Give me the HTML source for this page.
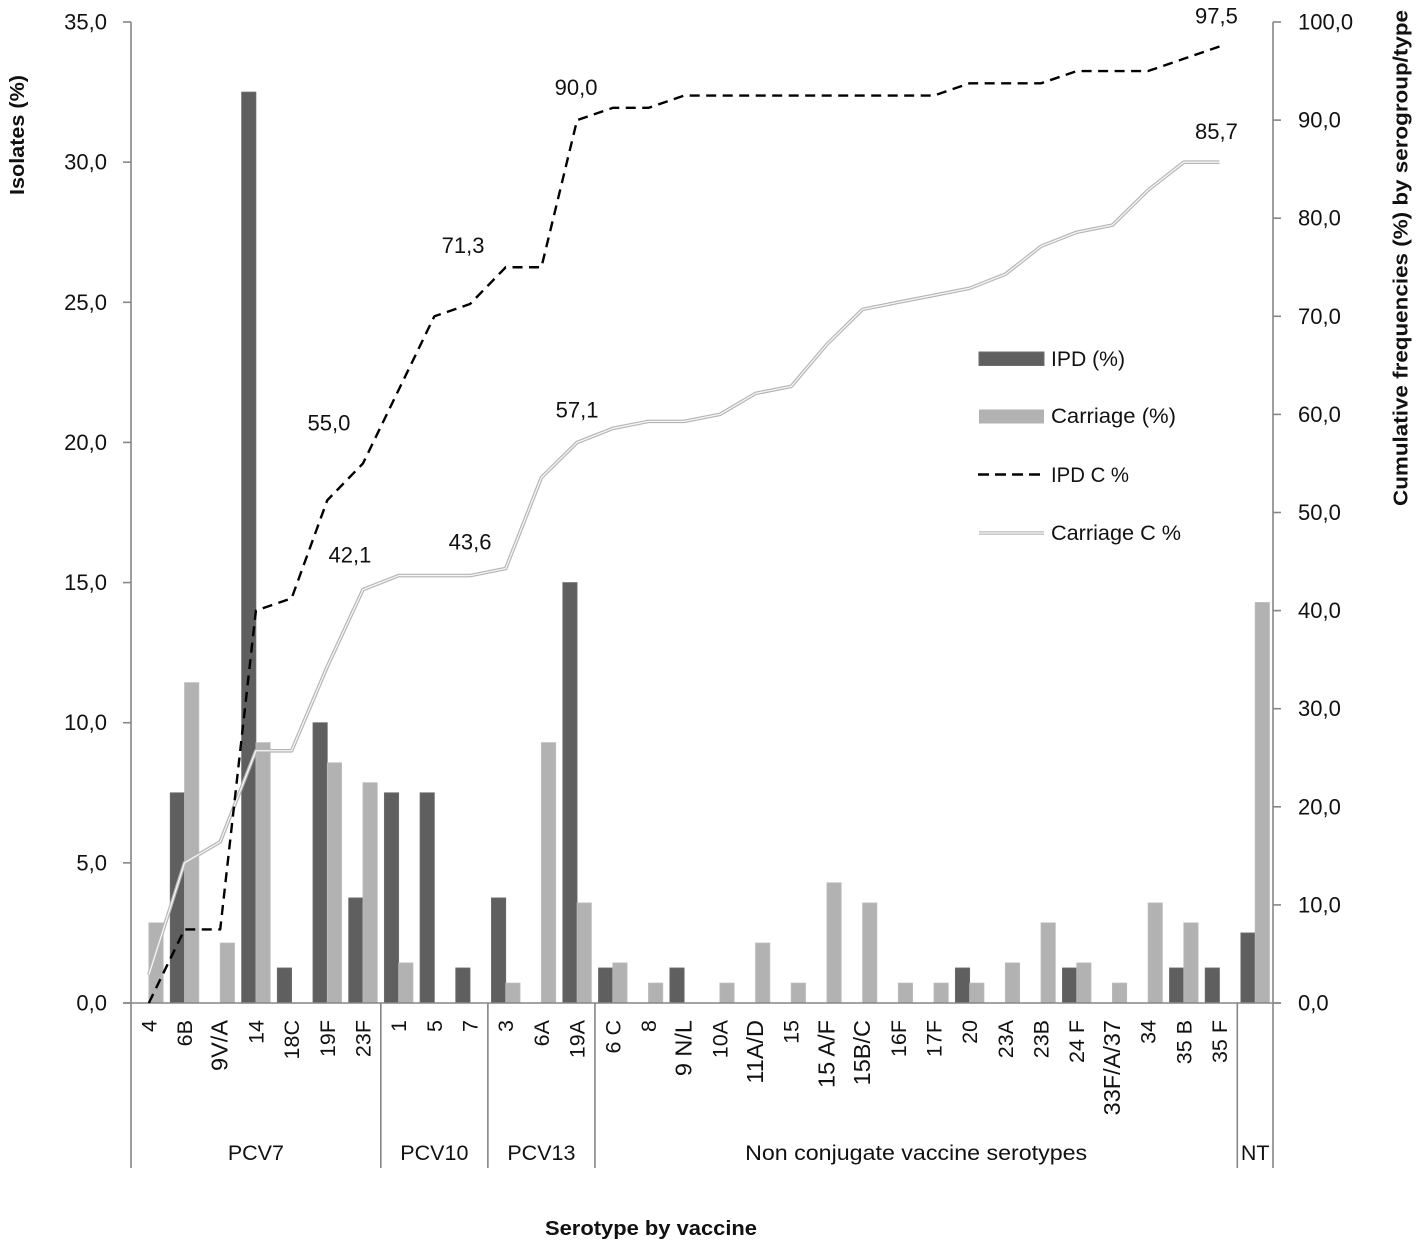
<!DOCTYPE html>
<html lang="en">
<head>
<meta charset="utf-8">
<title>Serotype distribution by vaccine</title>
<style>
html,body{margin:0;padding:0;background:#fff;}
svg{display:block;}
text{font-family:"Liberation Sans",sans-serif;fill:#111;}
</style>
</head>
<body>
<svg id="chart" width="1418" height="1246" viewBox="0 0 1418 1246" xmlns="http://www.w3.org/2000/svg">
  <text transform="translate(24,135) rotate(-90)" text-anchor="middle" font-size="20.5" font-weight="bold" textLength="120" lengthAdjust="spacingAndGlyphs">Isolates (%)</text>
  <text transform="translate(1407.5,258) rotate(-90)" text-anchor="middle" font-size="20.5" font-weight="bold" textLength="496" lengthAdjust="spacingAndGlyphs">Cumulative frequencies (%) by serogroup/type</text>
  <text x="651" y="1235" text-anchor="middle" font-size="20.5" font-weight="bold" textLength="212" lengthAdjust="spacingAndGlyphs">Serotype by vaccine</text>
  <g id="bars"></g>
  <g id="axes"></g>
  <g id="lines"></g>
  <g id="labels"></g>
  <g>
    <rect x="979" y="352" width="65" height="13.5" fill="#5f5f5f" stroke="#6e6e6e" stroke-width="1"/>
    <text x="1051" y="366" font-size="21.5" textLength="74" lengthAdjust="spacingAndGlyphs">IPD (%)</text>
    <rect x="979" y="409.5" width="65" height="14" fill="#b2b2b2"/>
    <text x="1051" y="423" font-size="21.5" textLength="125" lengthAdjust="spacingAndGlyphs">Carriage (%)</text>
    <line x1="978" y1="474.5" x2="1040" y2="474.5" stroke="#000" stroke-width="2.4" stroke-dasharray="11 6"/>
    <text x="1051" y="482" font-size="21.5" textLength="78" lengthAdjust="spacingAndGlyphs">IPD C %</text>
    <line x1="979" y1="533" x2="1044" y2="533" stroke="#b8b8b8" stroke-width="3.4"/>
    <line x1="979" y1="533" x2="1044" y2="533" stroke="#f4f4f4" stroke-width="1.2"/>
    <text x="1051" y="540" font-size="21.5" textLength="130" lengthAdjust="spacingAndGlyphs">Carriage C %</text>
  </g>
</svg>
<script>
const categories = ['4','6B','9V/A','14','18C','19F','23F','1','5','7','3','6A','19A','6 C','8','9 N/L','10A','11A/D','15','15 A/F','15B/C','16F','17F','20','23A','23B','24 F','33F/A/37','34','35 B','35 F',''];
const groupNames = ['PCV7','PCV10','PCV13','Non conjugate vaccine serotypes','NT'];
const groupSizes = [7,3,3,18,1];
const ipd = [0,7.5,0,32.5,1.25,10,3.75,7.5,7.5,1.25,3.75,0,15,1.25,0,1.25,0,0,0,0,0,0,0,1.25,0,0,1.25,0,0,1.25,1.25,2.5];
const carriage = [2.86,11.43,2.14,9.29,0,8.57,7.86,1.43,0,0,0.71,9.29,3.57,1.43,0.71,0,0.71,2.14,0.71,4.29,3.57,0.71,0.71,0.71,1.43,2.86,1.43,0.71,3.57,2.86,0,14.29];
const ipdCumulative = [0,7.5,7.5,40,41.25,51.25,55,62.5,70,71.25,75,75,90,91.25,91.25,92.5,92.5,92.5,92.5,92.5,92.5,92.5,92.5,93.75,93.75,93.75,95,95,95,96.25,97.5];
const carriageCumulative = [2.86,14.29,16.43,25.71,25.71,34.29,42.14,43.57,43.57,43.57,44.29,53.57,57.14,58.57,59.29,59.29,60,62.14,62.86,67.14,70.71,71.43,72.14,72.86,74.29,77.14,78.57,79.29,82.86,85.71,85.71];
const leftTicks = [0,5,10,15,20,25,30,35];
const rightTicks = [0,10,20,30,40,50,60,70,80,90,100];

const NS = 'http://www.w3.org/2000/svg';
const plot = {left:131, right:1273, top:22, bottom:1003, sepBottom:1168};
const AXIS = '#868686';
const step = (plot.right - plot.left) / categories.length;
const xCenter = i => plot.left + step * (i + 0.5);
const yLeft = v => plot.bottom - (v / 35) * (plot.bottom - plot.top);
const yRight = v => plot.bottom - (v / 100) * (plot.bottom - plot.top);
const comma = v => v.toFixed(1).replace('.', ',');

function make(parent, tag, attrs, content) {
  const el = document.createElementNS(NS, tag);
  for (const k in attrs) el.setAttribute(k, attrs[k]);
  if (content !== undefined) el.textContent = content;
  document.getElementById(parent).appendChild(el);
  return el;
}

const barW = 14.3;
categories.forEach((c, i) => {
  if (ipd[i] > 0) {
    const b = make('bars', 'rect', {x: xCenter(i) - barW, y: yLeft(ipd[i]), width: barW, height: plot.bottom - yLeft(ipd[i]), fill: '#5f5f5f', stroke: '#6e6e6e', 'stroke-width': 0.8});
    
    
  }
  if (carriage[i] > 0) {
    const b = make('bars', 'rect', {x: xCenter(i), y: yLeft(carriage[i]), width: barW, height: plot.bottom - yLeft(carriage[i]), fill: '#b2b2b2', stroke: '#bcbcbc', 'stroke-width': 0.8});
    
    
  }
});

function axisLine(x1, y1, x2, y2) {
  return make('axes', 'line', {x1, y1, x2, y2, stroke: AXIS, 'stroke-width': 1.6});
}

let el = axisLine(plot.left, plot.top, plot.left, plot.sepBottom);


el = axisLine(plot.right, plot.top, plot.right, plot.sepBottom);


el = axisLine(plot.left - 8, plot.bottom, plot.right + 8, plot.bottom);



leftTicks.forEach(v => {
  const tick = axisLine(plot.left - 8, yLeft(v), plot.left, yLeft(v));
  
  
  const lab = make('axes', 'text', {x: 107, y: yLeft(v) + 7.5, 'text-anchor': 'end', 'font-size': 22}, comma(v));
  
  
});
rightTicks.forEach(v => {
  const tick = axisLine(plot.right, yRight(v), plot.right + 8, yRight(v));
  
  
  const lab = make('axes', 'text', {x: 1298, y: yRight(v) + 7.5, 'font-size': 22}, comma(v));
  
  
});

categories.forEach((c, i) => {
  if (!c) return;
  const size = c.includes('/') ? 23.5 : 21.5;
  const lab = make('axes', 'text', {transform: 'translate(' + (xCenter(i) + 7.5) + ',1020) rotate(-90)', 'text-anchor': 'end', 'font-size': size}, c);
  
  
});

let startIndex = 0;
groupNames.forEach((g, gi) => {
  const endIndex = startIndex + groupSizes[gi];
  const xStart = plot.left + step * startIndex;
  const xEnd = plot.left + step * endIndex;
  if (endIndex < categories.length) {
    const sep = axisLine(xEnd, plot.bottom, xEnd, plot.sepBottom);
    
    
  }
  const attrs = {x: (xStart + xEnd) / 2, y: 1160, 'text-anchor': 'middle', 'font-size': 21.5};
  if (g.length > 10) { attrs.textLength = 342; attrs.lengthAdjust = 'spacingAndGlyphs'; }
  const lab = make('axes', 'text', attrs, g);
  
  
  startIndex = endIndex;
});

function linePoints(values) {
  return values.map((v, i) => xCenter(i).toFixed(2) + ',' + yRight(v).toFixed(2)).join(' ');
}
let ln = make('lines', 'polyline', {points: linePoints(carriageCumulative), fill: 'none', stroke: '#b4b4b4', 'stroke-width': 3.6, 'stroke-linejoin': 'round'});


ln = make('lines', 'polyline', {points: linePoints(carriageCumulative), fill: 'none', stroke: '#f6f6f6', 'stroke-width': 1.3, 'stroke-linejoin': 'round'});


ln = make('lines', 'polyline', {points: linePoints(ipdCumulative), fill: 'none', stroke: '#000', 'stroke-width': 2.4, 'stroke-dasharray': '10 6.5', 'stroke-linejoin': 'round'});



function valueLabel(values, i, dx, dy) {
  const lab = make('labels', 'text', {x: xCenter(i) + dx, y: yRight(values[i]) + dy, 'text-anchor': 'middle', 'font-size': 22}, comma(values[i]));
  
  
}
valueLabel(ipdCumulative, 6, -34, -33);
valueLabel(ipdCumulative, 9, -7, -51);
valueLabel(ipdCumulative, 12, -1, -25);
valueLabel(ipdCumulative, 30, -3, -23);
valueLabel(carriageCumulative, 6, -13, -27);
valueLabel(carriageCumulative, 9, 0, -26);
valueLabel(carriageCumulative, 12, 0, -25);
valueLabel(carriageCumulative, 30, -3, -23);
</script>
</body>
</html>
